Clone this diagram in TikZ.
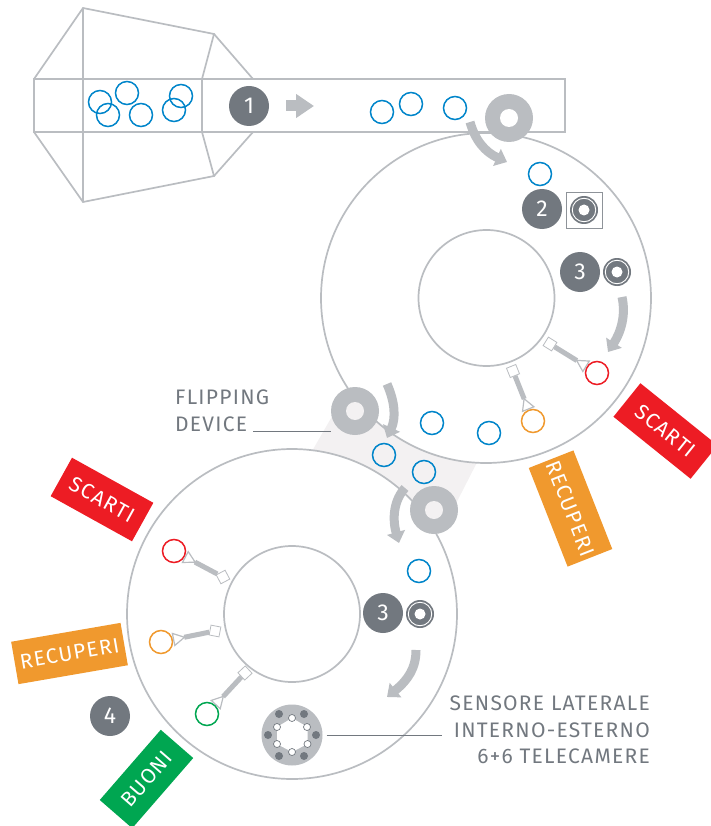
\documentclass[tikz,border=0pt]{standalone}
\usepackage{fontspec}
\setmainfont{Fira Sans}
\newfontfamily\labelfont[LetterSpace=6]{Fira Sans}
\usetikzlibrary{positioning, arrows.meta, calc}
\definecolor{linegray}{HTML}{BABDC1}
\definecolor{slategray}{HTML}{72787F}
\definecolor{bandgray}{HTML}{F3F1F2}
\definecolor{partblue}{HTML}{0085CA}
\definecolor{tagred}{HTML}{ED1C24}
\definecolor{tagorange}{HTML}{F0992E}
\definecolor{taggreen}{HTML}{00A651}

\begin{document}
\begin{tikzpicture}[
    x=1pt, y=-1pt,
    bigdisc/.style={circle, draw=linegray, line width=1.7pt, fill=white, inner sep=0pt, minimum size=330pt},
    hubdisc/.style={circle, draw=linegray, line width=1.7pt, fill=white, inner sep=0pt, minimum size=136pt},
    part/.style={circle, draw=partblue, line width=1.5pt, inner sep=0pt, minimum size=23pt},
    badge/.style={circle, fill=slategray, text=white, inner sep=0pt, minimum size=40pt, font=\fontsize{23}{25}\selectfont},
    roller/.style={circle, fill=linegray, inner sep=0pt, minimum size=48pt},
    rollerhole/.style={circle, fill=#1, inner sep=0pt, minimum size=18pt},
    camdisc/.style={circle, fill=slategray, inner sep=0pt, minimum size=28pt},
    camring/.style={circle, draw=white, line width=0.9pt, inner sep=0pt, minimum size=23.5pt},
    camhole/.style={circle, fill=white, inner sep=0pt, minimum size=11pt},
    armbase/.style={rectangle, draw=linegray, line width=0.8pt, fill=white, inner sep=0pt, minimum size=10pt},
    armbar/.style={draw=linegray, line width=5pt,
        -{Triangle[reversed, open, length=13pt, width=14pt, line width=1.2pt]}},
    tag/.style={fill=#1, text=white, inner sep=0pt, font=\labelfont\fontsize{21}{24}\selectfont},
    flowarrow/.style={draw=linegray, line width=9pt, -{Triangle[length=11pt, width=18pt]}},
    leader/.style={draw=slategray, line width=0.7pt},
    txt/.style={text=slategray, inner sep=0pt, font=\labelfont\fontsize{21}{24}\selectfont},
    lenscam/.style={circle, draw=slategray, line width=0.7pt, fill=white, inner sep=0pt, minimum size=7pt},
    lensdark/.style={circle, fill=slategray, inner sep=0pt, minimum size=8pt}
]

\useasboundingbox (0,0) rectangle (710,826);

% Flipping band
\fill[bandgray] (338,406) -- (490,437) -- (445,525) -- (300,472) -- cycle;

% Discs
\node[bigdisc] (discA) at (486,298) {};
\node[hubdisc] (hubA) at (486.5,298) {};
\node[bigdisc] (discB) at (292,614) {};
\node[hubdisc] (hubB) at (292,614) {};

% Hopper & belt
\draw[linegray, line width=1.7pt] (34,79) -- (83,8) -- (214,34) -- (202,79) -- (202,132) -- (214,176) -- (83,202) -- (34,132) -- cycle;
\draw[linegray, line width=1.7pt] (83,8) -- (83,202);
\draw[linegray, line width=1.7pt] (214,34) -- (253,79);
\draw[linegray, line width=1.7pt] (214,176) -- (253,132);
\draw[linegray, line width=1.7pt] (34,79) rectangle (565,132);

% Parts in the hopper
\node[part] (p1) at (100,102) {};
\node[part] (p2) at (127,93) {};
\node[part] (p3) at (108,115) {};
\node[part] (p4) at (141,115) {};
\node[part] (p5) at (181,96) {};
\node[part] (p6) at (174,110) {};

% Parts on belt and discs
\node[part] (p7) at (382,112) {};
\node[part] (p8) at (411,104) {};
\node[part] (p9) at (455,108) {};
\node[part] (p10) at (540,174) {};
\node[part] (p11) at (432,423) {};
\node[part] (p12) at (489,433) {};
\node[part] (p13) at (384,455) {};
\node[part] (p14) at (424,472) {};
\node[part] (p15) at (419,571) {};

% Transfer rollers
\node[roller] (rollerA) at (509,118) {};
\node[rollerhole=white] (holeA) at (rollerA) {};
\node[roller] (rollerB) at (355,411) {};
\node[rollerhole=bandgray] (holeB) at (rollerB) {};
\node[roller] (rollerC) at (434,510) {};
\node[rollerhole=bandgray] (holeC) at (rollerC) {};

% Step badges
\node[badge] (stepA) at (249,106) {1};
\node[badge] (stepB) at (542,209) {2};
\node[badge] (stepC) at (580,272) {3};
\node[badge] (stepD) at (383,613) {3};
\node[badge] (stepE) at (110,716) {4};

% Cameras
\node[draw=slategray!80, line width=0.8pt, minimum size=36pt, inner sep=0pt] (camframe) at (584,210) {};
\node[camdisc] (camA) at (584,210) {};
\node[camring] (camAr) at (camA) {};
\node[camhole] (camAh) at (camA) {};
\node[camdisc] (camB) at (617,272) {};
\node[camring] (camBr) at (camB) {};
\node[camhole] (camBh) at (camB) {};
\node[camdisc] (camC) at (420,614) {};
\node[camring] (camCr) at (camC) {};
\node[camhole] (camCh) at (camC) {};

% Flow arrows
\coordinate (flowAs) at (286,106);
\coordinate (flowAe) at (314,106);
\draw[linegray, line width=11pt, -{Triangle[length=18pt, width=23pt]}] (flowAs) -- (flowAe);
\coordinate (flowBs) at (470,122);
\coordinate (flowBe) at (507,162);
\draw[flowarrow] (flowBs) .. controls (475,140) and (485,152) .. (flowBe);
\coordinate (flowCs) at (622,297);
\coordinate (flowCe) at (608,352);
\draw[flowarrow] (flowCs) .. controls (626,315) and (621,332) .. (flowCe);
\coordinate (flowDs) at (387,384);
\coordinate (flowDe) at (387,438);
\draw[flowarrow] (flowDs) .. controls (395,402) and (396,418) .. (flowDe);
\coordinate (flowEs) at (405,488);
\coordinate (flowEe) at (399,543);
\draw[flowarrow] (flowEs) .. controls (394,500) and (392,518) .. (flowEe);
\coordinate (flowFs) at (416,650);
\coordinate (flowFe) at (387,697);
\draw[flowarrow] (flowFs) .. controls (416,668) and (408,680) .. (flowFe);

% Inspection arms
\node[part, draw=tagred] (ringA) at (597,373) {};
\node[armbase, rotate=-32] (armA) at (550,344) {};
\draw[armbar] (armA) -- (ringA);
\node[part, draw=tagorange] (ringB) at (533,421) {};
\node[armbase, rotate=-68] (armB) at (513,371) {};
\draw[armbar] (armB) -- (ringB);
\node[part, draw=tagred] (ringC) at (174,551) {};
\node[armbase, rotate=28] (armC) at (223,577) {};
\draw[armbar] (armC) -- (ringC);
\node[part, draw=tagorange] (ringD) at (161,642) {};
\node[armbase, rotate=-11] (armD) at (215,631) {};
\draw[armbar] (armD) -- (ringD);
\node[part, draw=taggreen] (ringE) at (207,714) {};
\node[armbase, rotate=-47] (armE) at (245,673) {};
\draw[armbar] (armE) -- (ringE);

% Side sensor
\node[circle, fill=linegray, inner sep=0pt, minimum size=61pt] (sensor) at (292,735) {};
\fill[white] (292,718) -- (307.5,727) -- (307.5,744) -- (292,752) -- (277,744) -- (277,727) -- cycle;
\node[lenscam] (lensA) at (292,718) {};
\node[lenscam] (lensB) at (307,727) {};
\node[lenscam] (lensC) at (307.5,744) {};
\node[lenscam] (lensD) at (292,752) {};
\node[lenscam] (lensE) at (277,744) {};
\node[lenscam] (lensF) at (277,727) {};
\node[lensdark] (darkA) at (279,714) {};
\node[lensdark] (darkB) at (304,714) {};
\node[lensdark] (darkC) at (268,735) {};
\node[lensdark] (darkD) at (316,735) {};
\node[lensdark] (darkE) at (279,756) {};
\node[lensdark] (darkF) at (304,756) {};

% Output tags
\node[tag=tagred, minimum width=99pt, minimum height=43pt, rotate=-38.8] (scartiA) at (665.5,431) {SCARTI};
\node[tag=tagorange, minimum width=106pt, minimum height=48pt, rotate=-68.5] (recuperiA) at (570.5,508.5) {RECUPERI};
\node[tag=tagred, minimum width=93pt, minimum height=44pt, rotate=-29] (scartiB) at (102,499.5) {SCARTI};
\node[tag=tagorange, minimum width=111pt, minimum height=43pt, rotate=9.8] (recuperiB) at (69.5,653.5) {RECUPERI};
\node[tag=taggreen, minimum width=93pt, minimum height=43pt, rotate=49] (buoni) at (146.5,779) {BUONI};

% Labels
\node[txt, anchor=base west] (fliptxt) at (175,404) {FLIPPING};
\node[txt, anchor=base west] (devtxt) at (175,431) {DEVICE};
\coordinate (flipend) at (331,431);
\draw[leader] (253,431) -- (flipend);
\node[txt, anchor=base east] (senstxtA) at (650,710) {SENSORE LATERALE};
\node[txt, anchor=base east] (senstxtB) at (650,737) {INTERNO-ESTERNO};
\node[txt, anchor=base east] (senstxtC) at (650,763) {6+6 TELECAMERE};
\coordinate (sensend) at (442,735);
\draw[leader, shorten <=4pt] (sensor.east) -- (sensend);

\end{tikzpicture}
\end{document}
